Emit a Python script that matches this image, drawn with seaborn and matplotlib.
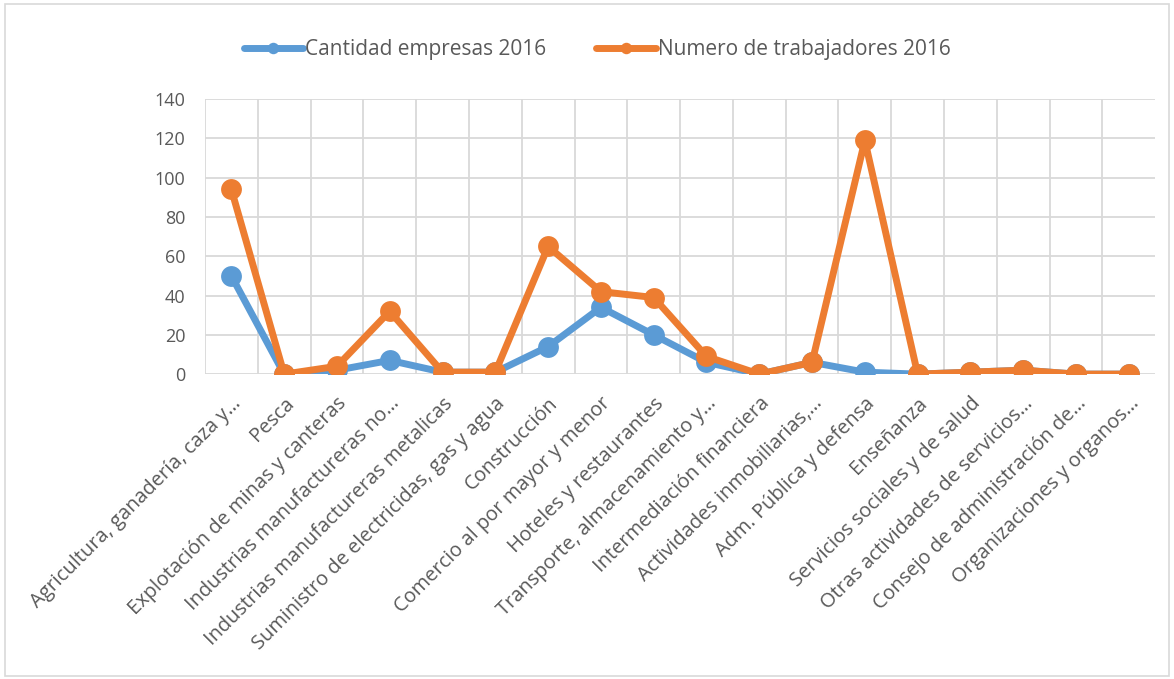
import pandas as pd
import matplotlib.pyplot as plt
import seaborn as sns
from matplotlib.patches import Rectangle

categorias = [
    "Agricultura, ganadería, caza y…",
    "Pesca",
    "Explotación de minas y canteras",
    "Industrias manufactureras no…",
    "Industrias manufactureras metalicas",
    "Suministro de electricidas, gas y agua",
    "Construcción",
    "Comercio al por mayor y menor",
    "Hoteles y restaurantes",
    "Transporte, almacenamiento y…",
    "Intermediación financiera",
    "Actividades inmobiliarias,…",
    "Adm. Pública y defensa",
    "Enseñanza",
    "Servicios sociales y de salud",
    "Otras actividades de servicios…",
    "Consejo de administración de…",
    "Organizaciones y organos…",
]
empresas = [50, 0, 2, 7, 1, 1, 14, 34, 20, 6, 0, 6, 1, 0, 1, 2, 0, 0]
trabajadores = [94, 0, 4, 32, 1, 1, 65, 42, 39, 9, 0, 6, 119, 0, 1, 2, 0, 0]
series = ["Cantidad empresas 2016", "Numero de trabajadores 2016"]
colores = ["#5B9BD5", "#ED7D31"]

pos = list(range(len(categorias)))
df = pd.DataFrame({
    "pos": pos * 2,
    "valor": empresas + trabajadores,
    "serie": [series[0]] * len(pos) + [series[1]] * len(pos),
})

sns.set_style("white")
plt.rcParams["font.family"] = ["Open Sans", "DejaVu Sans"]

fig = plt.figure(figsize=(11.74, 6.79), dpi=100)
ax = fig.add_axes([0.1746, 0.449, 0.8094, 0.405])

sns.lineplot(data=df, x="pos", y="valor", hue="serie", palette=colores,
             marker="o", markersize=15, linewidth=5, markeredgewidth=0,
             sort=False, ax=ax)

ax.set_xlim(-0.5, len(categorias) - 0.5)
ax.set_ylim(0, 140)
ax.set_yticks(range(0, 141, 20))
ax.set_xticks(pos)
ax.set_xticks([p + 0.5 for p in pos[:-1]] + [-0.5], minor=True)
ax.set_xticklabels(categorias, rotation=45, ha="right", rotation_mode="anchor",
                   fontsize=14.4, color="#595959")
ax.tick_params(axis="y", labelsize=13, labelcolor="#595959", length=0, pad=14)
ax.tick_params(axis="x", which="both", length=0, pad=14)
ax.grid(axis="y", color="#D9D9D9", linewidth=1.3)
ax.grid(axis="x", which="minor", color="#D9D9D9", linewidth=1.3)
for s in ax.spines.values():
    s.set_visible(False)
ax.set_axisbelow(True)
ax.set_xlabel("")
ax.set_ylabel("")

handles, labels = ax.get_legend_handles_labels()
ax.legend(handles, labels, loc="center", bbox_to_anchor=(0.5085, 0.927),
          bbox_transform=fig.transFigure, ncol=2, frameon=False,
          fontsize=15, labelcolor="#595959", handlelength=2.85,
          columnspacing=2.4, handletextpad=0.1, markerscale=0.55)

fig.patches.append(Rectangle((0.004, 0.004), 0.992, 0.99, transform=fig.transFigure,
                             fill=False, edgecolor="#D9D9D9", linewidth=1.2))

fig.savefig("out.png", dpi=100)
